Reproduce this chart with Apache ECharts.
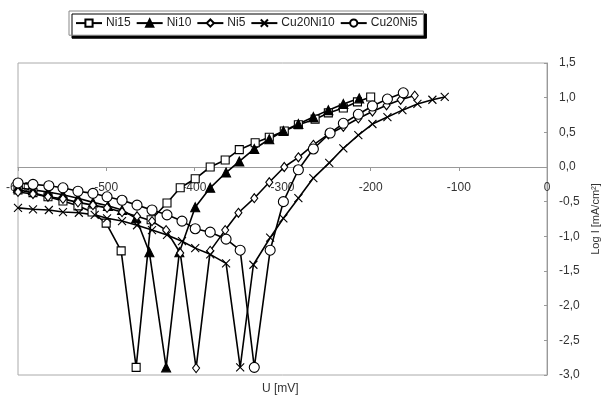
<!DOCTYPE html>
<html>
<head>
<meta charset="utf-8">
<script src="https://cdn.jsdelivr.net/npm/echarts@6/dist/echarts.min.js"></script>
<style>
  html, body { margin: 0; padding: 0; background: #fff; }
  #chart { width: 601px; height: 396px; }
</style>
</head>
<body>
<div id="chart"></div>
<script>
// potential U [mV] and log I [mA/cm2]
const ni15U = [-600, -583, -566, -549, -532, -516, -500, -483, -466, -449, -431, -416, -399, -382, -365, -349, -331, -315, -298, -282, -263, -248, -231, -215, -200];
const ni15I = [-0.33, -0.37, -0.43, -0.49, -0.56, -0.65, -0.81, -1.21, -2.89, -0.76, -0.52, -0.30, -0.17, 0.0, 0.10, 0.25, 0.35, 0.43, 0.52, 0.61, 0.69, 0.78, 0.85, 0.94, 1.01];

const ni10U = [-600, -583, -566, -549, -532, -515, -498, -482, -466, -451, -432, -417, -399, -382, -364, -349, -332, -315, -299, -282, -265, -248, -231, -213];
const ni10I = [-0.30, -0.33, -0.36, -0.40, -0.45, -0.51, -0.56, -0.62, -0.74, -1.23, -2.89, -1.23, -0.58, -0.30, -0.08, 0.08, 0.26, 0.40, 0.52, 0.62, 0.72, 0.82, 0.91, 0.99];

const ni5U = [-600, -583, -566, -549, -532, -515, -499, -482, -465, -448, -432, -416, -398, -382, -365, -350, -332, -315, -298, -282, -265, -248, -231, -214, -198, -182, -166, -150];
const ni5I = [-0.36, -0.39, -0.43, -0.46, -0.51, -0.55, -0.59, -0.65, -0.71, -0.78, -0.91, -1.24, -2.90, -1.21, -0.91, -0.66, -0.45, -0.22, 0.0, 0.14, 0.32, 0.47, 0.58, 0.70, 0.80, 0.89, 0.97, 1.03];

const cu20ni10U = [-600, -583, -565, -549, -531, -513, -499, -482, -465, -448, -431, -414, -399, -382, -364, -348, -333, -314, -299, -282, -265, -247, -231, -214, -198, -181, -164, -147, -130, -116];
const cu20ni10I = [-0.59, -0.61, -0.62, -0.65, -0.66, -0.69, -0.74, -0.78, -0.84, -0.91, -0.98, -1.07, -1.17, -1.26, -1.39, -2.89, -1.41, -1.02, -0.74, -0.45, -0.16, 0.06, 0.27, 0.46, 0.62, 0.72, 0.82, 0.91, 0.97, 1.01];

const cu20ni5U = [-600, -583, -565, -549, -532, -515, -499, -482, -465, -448, -431, -414, -399, -382, -364, -348, -332, -314, -299, -282, -265, -246, -231, -214, -198, -181, -163];
const cu20ni5I = [-0.23, -0.25, -0.27, -0.30, -0.35, -0.38, -0.43, -0.48, -0.55, -0.62, -0.69, -0.78, -0.89, -0.94, -1.04, -1.20, -2.89, -1.20, -0.50, -0.04, 0.26, 0.49, 0.63, 0.76, 0.88, 0.98, 1.07];

const names = ['Ni15', 'Ni10', 'Ni5', 'Cu20Ni10', 'Cu20Ni5'];

const font = 'Liberation Sans, Arial, sans-serif';
const zip = (u, i) => u.map((v, k) => [v, i[k]]);

// grid box in px; x axis sits on log I = 0
const gridTop = 63;
const gridBottom = 21;
const yMin = -3;
const yMax = 1.5;
const plotH = 396 - gridTop - gridBottom;
const zeroOffset = -plotH * (0 - yMin) / (yMax - yMin);

function makeSeries(name, u, i, symbol, size, fill) {
  return {
    name: name,
    type: 'line',
    data: zip(u, i),
    symbol: symbol,
    symbolSize: size,
    showAllSymbol: true,
    lineStyle: { color: '#000', width: 1.6 },
    itemStyle: { color: fill, borderColor: '#000', borderWidth: 1.1 },
    emphasis: { disabled: true },
  };
}

const chart = echarts.init(document.getElementById('chart'), null, { renderer: 'canvas' });

chart.setOption({
  animation: false,
  backgroundColor: '#fff',
  textStyle: { fontFamily: font },
  legend: {
    data: names,
    left: 69,
    top: 11,
    padding: [6, 6],
    itemWidth: 26,
    itemHeight: 9,
    itemGap: 5,
    backgroundColor: '#fff',
    borderColor: '#888',
    borderWidth: 1,
    shadowColor: '#000',
    shadowBlur: 0,
    shadowOffsetX: 3,
    shadowOffsetY: 3,
    textStyle: { fontSize: 12, color: '#222', fontFamily: font, padding: [0, 0, 0, -1] },
  },
  grid: {
    left: 18,
    right: 54,
    top: gridTop,
    bottom: gridBottom,
    containLabel: false,
    outerBoundsMode: 'none',
    show: true,
    borderColor: '#aaa',
    borderWidth: 1,
  },
  xAxis: {
    type: 'value',
    min: -600,
    max: 0,
    interval: 100,
    position: 'bottom',
    offset: zeroOffset,
    axisLine: { onZero: false, lineStyle: { color: '#999', width: 1 } },
    axisTick: { show: true, length: 4, lineStyle: { color: '#999' } },
    axisLabel: { margin: 15, fontSize: 12, color: '#333', fontFamily: font },
    splitLine: { show: false },
  },
  yAxis: {
    type: 'value',
    position: 'right',
    min: yMin,
    max: yMax,
    interval: 0.5,
    name: 'Log I [mA/cm²]',
    nameLocation: 'middle',
    nameRotate: 90,
    nameGap: 41,
    nameTextStyle: { fontSize: 11, color: '#333', fontFamily: font, padding: [0, 0, 8, 0] },
    axisLine: { show: true, onZero: false, lineStyle: { color: '#999', width: 1 } },
    axisTick: { show: true, inside: true, length: 3, lineStyle: { color: '#999' } },
    axisLabel: {
      margin: 12,
      fontSize: 12,
      color: '#333',
      fontFamily: font,
      formatter: (v) => v.toFixed(1).replace('.', ','),
    },
    splitLine: { show: false },
  },
  graphic: [{
    type: 'text',
    left: 262,
    top: 383,
    style: { text: 'U [mV]', fontSize: 12, fill: '#333', fontFamily: font },
  }],
  series: [
    makeSeries(names[0], ni15U, ni15I, 'rect', 8, '#fff'),
    makeSeries(names[1], ni10U, ni10I, 'triangle', 9, '#000'),
    makeSeries(names[2], ni5U, ni5I, 'diamond', [7, 9], '#fff'),
    makeSeries(names[3], cu20ni10U, cu20ni10I, 'path://M0,0L10,10M10,0L0,10', 8, 'none'),
    makeSeries(names[4], cu20ni5U, cu20ni5I, 'circle', 10, '#fff'),
  ],
});
</script>
</body>
</html>
